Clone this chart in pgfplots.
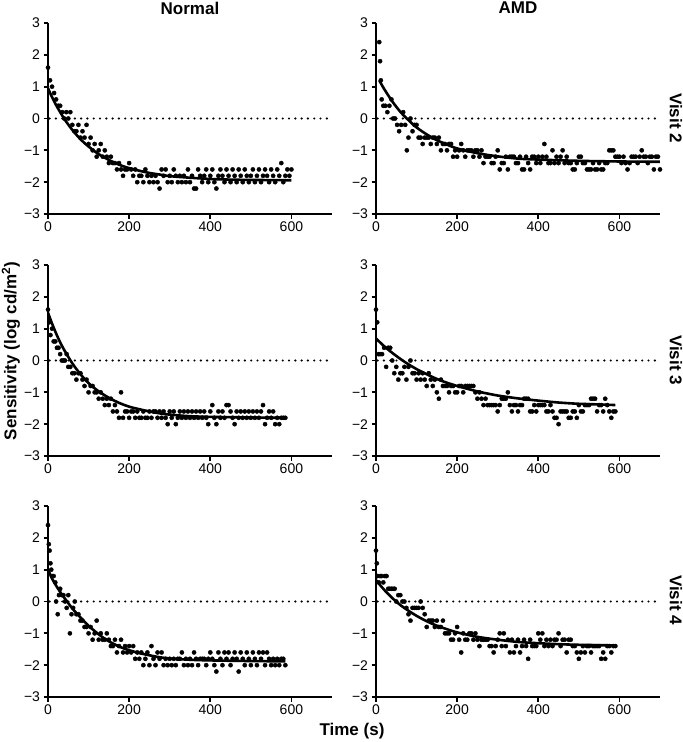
\documentclass[border=0pt]{standalone}
\usepackage{pgfplots}
\pgfplotsset{compat=1.18}
\usepackage{fontspec}
\setmainfont{Liberation Sans}
\pgfplotsset{
  panel/.style={
    scale only axis, width=284pt, height=191pt,
    xmin=0, xmax=700, ymin=-3, ymax=3,
    axis x line*=bottom, axis y line*=left,
    xtick={0,200,400,600}, ytick={-3,-2,-1,0,1,2,3},
    yticklabels={−3,−2,−1,0,1,2,3},
    tick align=outside, major tick length=4.5pt,
    tick style={line width=1.8pt, black},
    axis line style={line width=2.2pt, black},
    ticklabel style={font=\fontsize{14}{16}\selectfont},
    /pgf/number format/assume math mode=true,
    anchor=south west,
  },
  pts/.style={only marks, mark=*, mark size=2.1pt, black},
  fit/.style={line width=2.6pt, black, smooth, no marks},
  zero/.style={line width=2.4pt, black, line cap=round, dash pattern=on 0pt off 6.3pt, no marks},
}
\begin{document}
\begin{tikzpicture}
\useasboundingbox (0,0) rectangle (683pt,-742pt);
% ---------- Normal, Visit 2
\begin{axis}[panel, at={(48pt,-214pt)}]
\addplot[zero] coordinates {(4,0)(700,0)};
\addplot[pts] coordinates {(0,1.6)(5,1.2)(10,1.0)(15,0.8)(20,0.6)(25,0.4)(30,0.4)(35,0.2)(40,0.0)(45,0.2)(50,0.0)(55,0.2)(60,-0.2)(65,-0.4)(70,-0.4)(75,-0.2)(80,-0.6)(85,-0.4)(90,-0.6)(95,-0.2)(100,-0.8)(105,-0.6)(110,-1.0)(115,-0.8)(120,-1.2)(125,-1.0)(130,-0.8)(135,-1.2)(140,-1.0)(145,-1.2)(150,-1.4)(155,-1.2)(160,-1.4)(165,-1.4)(170,-1.6)(175,-1.4)(180,-1.6)(185,-1.8)(190,-1.6)(195,-1.6)(200,-1.4)(205,-1.6)(210,-1.8)(215,-1.6)(220,-2.0)(225,-1.8)(230,-1.8)(235,-2.0)(240,-1.6)(245,-1.8)(250,-2.0)(255,-1.8)(260,-2.0)(265,-1.8)(270,-2.0)(275,-2.2)(280,-1.6)(285,-1.8)(290,-1.6)(295,-2.0)(300,-1.8)(305,-2.0)(310,-1.6)(315,-1.8)(320,-2.0)(325,-1.8)(330,-2.0)(335,-1.8)(340,-2.0)(345,-1.6)(350,-2.0)(355,-1.8)(360,-2.2)(365,-2.2)(370,-1.6)(375,-1.8)(380,-2.0)(385,-1.8)(390,-1.6)(395,-2.0)(400,-1.8)(405,-1.6)(410,-2.0)(415,-2.2)(420,-1.8)(425,-1.6)(430,-1.8)(435,-2.0)(440,-1.6)(445,-1.8)(450,-2.0)(455,-1.6)(460,-1.8)(465,-2.0)(470,-1.6)(475,-1.8)(480,-2.0)(485,-1.6)(490,-1.8)(495,-2.0)(500,-1.8)(505,-1.6)(510,-2.0)(515,-1.8)(520,-1.6)(525,-2.0)(530,-1.8)(535,-1.6)(540,-1.8)(545,-2.0)(550,-1.6)(555,-1.8)(560,-2.0)(565,-1.6)(570,-1.8)(575,-1.4)(580,-2.0)(585,-1.8)(590,-1.6)(595,-1.8)(600,-1.6)};
\addplot[fit] coordinates {(0,0.95)(10,0.67)(20,0.42)(30,0.20)(40,-0.01)(50,-0.19)(60,-0.36)(80,-0.65)(100,-0.88)(125,-1.12)(150,-1.30)(175,-1.45)(200,-1.56)(225,-1.64)(250,-1.71)(275,-1.76)(300,-1.81)(350,-1.86)(400,-1.90)(450,-1.92)(500,-1.93)(600,-1.94)};
\end{axis}
% ---------- AMD, Visit 2
\begin{axis}[panel, at={(376pt,-214pt)}]
\addplot[zero] coordinates {(4,0)(700,0)};
\addplot[pts] coordinates {(8,2.4)(10,1.8)(12,1.2)(14,0.6)(18,0.4)(23,0.4)(28,0.2)(33,0.4)(38,0.6)(42,0.0)(47,0.0)(52,-0.2)(57,-0.4)(62,-0.2)(67,0.2)(72,-0.2)(76,-1.0)(80,-0.6)(85,0.0)(90,-0.4)(95,-0.2)(100,-0.2)(105,-0.6)(110,-0.6)(115,-0.8)(120,-0.6)(125,-0.6)(130,-0.6)(135,-0.8)(140,-0.6)(145,-0.6)(150,-0.8)(155,-0.6)(160,-1.0)(165,-0.8)(170,-0.8)(175,-1.0)(180,-0.8)(185,-0.8)(190,-1.2)(195,-1.0)(200,-1.2)(205,-1.0)(210,-0.8)(215,-1.0)(220,-1.2)(225,-1.0)(230,-1.0)(235,-1.0)(240,-1.2)(245,-1.0)(250,-1.0)(255,-1.2)(260,-1.0)(265,-1.4)(270,-1.2)(275,-1.2)(280,-1.2)(285,-1.4)(290,-1.4)(295,-1.2)(300,-1.0)(305,-1.6)(310,-1.4)(315,-1.4)(320,-1.2)(325,-1.6)(330,-1.2)(335,-1.2)(340,-1.2)(345,-1.4)(350,-1.4)(355,-1.2)(360,-1.6)(365,-1.6)(370,-1.2)(375,-1.4)(380,-1.6)(385,-1.2)(390,-1.2)(395,-1.4)(400,-1.2)(405,-1.4)(410,-1.2)(415,-0.8)(420,-1.2)(425,-1.4)(430,-1.4)(435,-1.0)(440,-1.4)(445,-1.2)(450,-1.4)(455,-1.2)(460,-1.0)(465,-1.4)(470,-1.2)(475,-1.4)(480,-1.4)(485,-1.6)(490,-1.6)(495,-1.4)(500,-1.2)(505,-1.2)(510,-1.4)(515,-1.4)(520,-1.6)(525,-1.6)(530,-1.6)(535,-1.4)(540,-1.6)(545,-1.6)(550,-1.4)(555,-1.6)(560,-1.6)(565,-1.4)(570,-1.4)(575,-1.0)(580,-1.0)(585,-1.0)(590,-1.2)(595,-1.2)(600,-1.2)(605,-1.4)(610,-1.2)(615,-1.4)(620,-1.6)(625,-1.4)(630,-1.2)(635,-1.2)(640,-1.2)(645,-1.4)(650,-1.2)(655,-1.0)(660,-1.2)(665,-1.2)(670,-1.4)(675,-1.2)(680,-1.2)(685,-1.6)(690,-1.2)(695,-1.2)(700,-1.6)};
\addplot[fit] coordinates {(8,1.20)(20,0.93)(40,0.54)(60,0.21)(80,-0.05)(100,-0.28)(125,-0.50)(150,-0.68)(175,-0.82)(200,-0.94)(250,-1.09)(300,-1.19)(350,-1.26)(400,-1.29)(500,-1.33)(600,-1.35)(700,-1.36)};
\end{axis}
% ---------- Normal, Visit 3
\begin{axis}[panel, at={(48pt,-456pt)}]
\addplot[zero] coordinates {(4,0)(700,0)};
\addplot[pts] coordinates {(0,1.6)(3,1.2)(6,0.8)(10,1.0)(14,0.6)(18,0.6)(22,0.4)(26,0.4)(30,0.2)(34,0.0)(38,0.0)(42,0.0)(46,0.2)(50,-0.2)(55,-0.2)(60,-0.4)(65,-0.4)(70,-0.6)(75,-0.4)(80,-0.4)(85,-0.6)(90,-0.8)(95,-0.6)(100,-1.0)(105,-0.8)(110,-0.8)(115,-1.0)(120,-1.0)(125,-1.2)(130,-1.0)(135,-1.2)(140,-1.4)(145,-1.2)(150,-1.4)(155,-1.2)(160,-1.6)(165,-1.4)(170,-1.6)(175,-1.8)(180,-1.0)(185,-1.8)(190,-1.6)(195,-1.6)(200,-1.8)(205,-1.6)(210,-1.6)(215,-1.8)(220,-1.6)(225,-1.8)(230,-1.8)(235,-1.6)(240,-1.8)(245,-1.8)(250,-1.6)(255,-1.8)(260,-1.6)(265,-1.6)(270,-1.8)(275,-1.6)(280,-1.8)(285,-1.6)(290,-1.8)(295,-2.0)(300,-1.6)(305,-1.8)(310,-1.6)(315,-2.0)(320,-1.8)(325,-1.6)(330,-1.8)(335,-1.6)(340,-1.8)(345,-1.6)(350,-1.8)(355,-1.6)(360,-1.8)(365,-1.6)(370,-1.8)(375,-1.6)(380,-1.8)(385,-1.6)(390,-1.8)(395,-2.0)(400,-1.6)(405,-1.4)(410,-1.8)(415,-2.0)(420,-1.6)(425,-1.8)(430,-1.6)(435,-1.8)(440,-1.4)(445,-1.4)(450,-1.6)(455,-1.8)(460,-2.0)(465,-1.6)(470,-1.8)(475,-1.6)(480,-1.8)(485,-1.6)(490,-1.8)(495,-1.6)(500,-1.8)(505,-1.6)(510,-1.8)(515,-1.6)(520,-1.8)(525,-1.6)(530,-1.4)(535,-2.0)(540,-1.8)(545,-1.6)(550,-1.8)(555,-1.6)(560,-2.0)(565,-1.8)(570,-2.0)(575,-1.8)(580,-1.8)(585,-1.8)};
\addplot[fit] coordinates {(0,1.50)(10,1.16)(20,0.85)(30,0.57)(40,0.33)(60,-0.09)(80,-0.43)(100,-0.71)(125,-0.97)(150,-1.17)(175,-1.33)(200,-1.45)(225,-1.53)(250,-1.60)(275,-1.66)(300,-1.70)(350,-1.75)(400,-1.77)(500,-1.79)(585,-1.80)};
\end{axis}
% ---------- AMD, Visit 3
\begin{axis}[panel, at={(376pt,-456pt)}]
\addplot[zero] coordinates {(4,0)(700,0)};
\addplot[pts] coordinates {(0,1.6)(3,1.2)(6,0.2)(10,0.2)(15,0.2)(20,0.4)(25,-0.2)(30,0.4)(35,0.4)(40,0.0)(45,-0.4)(50,-0.2)(55,-0.6)(60,-0.4)(65,-0.4)(70,-0.2)(75,-0.6)(80,-0.2)(85,0.0)(90,-0.4)(95,-0.4)(100,-0.6)(105,-0.4)(110,-0.6)(115,-0.4)(120,-0.6)(125,-0.8)(130,-0.4)(135,-0.6)(140,-0.8)(145,-0.6)(150,-1.0)(155,-1.2)(160,-0.6)(165,-0.8)(170,-0.8)(175,-0.8)(180,-1.0)(185,-0.8)(190,-0.8)(195,-1.0)(200,-1.0)(205,-0.8)(210,-0.8)(215,-1.0)(220,-0.8)(225,-0.8)(230,-0.8)(235,-0.8)(240,-0.8)(245,-1.0)(250,-1.2)(255,-1.0)(260,-1.2)(265,-1.4)(270,-1.2)(275,-1.4)(280,-1.4)(285,-1.4)(290,-1.4)(295,-1.4)(300,-1.6)(305,-1.4)(310,-1.2)(315,-1.2)(320,-1.2)(325,-1.0)(330,-1.4)(335,-1.6)(340,-1.4)(345,-1.4)(350,-1.6)(355,-1.4)(360,-1.4)(365,-1.2)(370,-1.2)(375,-1.2)(380,-1.6)(385,-1.6)(390,-1.4)(395,-1.6)(400,-1.4)(405,-1.4)(410,-1.4)(415,-1.4)(420,-1.6)(425,-1.6)(430,-1.4)(435,-1.6)(440,-1.8)(445,-1.8)(450,-2.0)(455,-1.6)(460,-1.6)(465,-1.6)(470,-1.6)(475,-1.8)(480,-1.8)(485,-1.6)(490,-1.6)(495,-1.8)(500,-1.4)(505,-1.6)(510,-1.6)(515,-1.4)(520,-1.4)(525,-1.4)(530,-1.2)(535,-1.2)(540,-1.2)(545,-1.6)(550,-1.4)(555,-1.4)(560,-1.6)(565,-1.2)(570,-1.4)(575,-1.6)(580,-1.8)(585,-1.6)(590,-1.6)};
\addplot[fit] coordinates {(0,0.69)(20,0.45)(40,0.24)(60,0.05)(80,-0.12)(100,-0.27)(125,-0.43)(150,-0.58)(175,-0.70)(200,-0.80)(250,-0.97)(300,-1.10)(350,-1.19)(400,-1.26)(450,-1.32)(500,-1.36)(550,-1.38)(590,-1.40)};
\end{axis}
% ---------- Normal, Visit 4
\begin{axis}[panel, at={(48pt,-697pt)}]
\addplot[zero] coordinates {(4,0)(700,0)};
\addplot[pts] coordinates {(0,2.4)(2,1.8)(4,1.6)(6,1.2)(8,1.0)(10,0.8)(14,0.8)(18,0.6)(20,0.0)(24,-0.4)(27,0.2)(30,0.4)(34,0.2)(38,0.2)(42,0.0)(46,-0.2)(50,0.2)(54,-1.0)(58,-0.4)(62,-0.2)(66,0.0)(70,-0.4)(75,-0.4)(80,-0.6)(85,-0.6)(90,-0.8)(95,-0.8)(100,-1.0)(105,-0.8)(110,-1.2)(115,-1.0)(120,-0.6)(125,-1.2)(130,-1.0)(135,-1.2)(140,-1.2)(145,-1.0)(150,-1.2)(155,-1.4)(160,-1.4)(165,-1.2)(170,-1.6)(175,-1.4)(180,-1.2)(185,-1.6)(190,-1.4)(195,-1.6)(200,-1.4)(205,-1.6)(210,-1.4)(215,-1.8)(220,-1.6)(225,-1.8)(230,-1.6)(235,-2.0)(240,-1.8)(245,-1.6)(250,-2.0)(255,-1.4)(260,-1.8)(265,-2.0)(270,-1.6)(275,-1.8)(280,-1.6)(285,-2.0)(290,-1.8)(295,-2.0)(300,-1.8)(305,-2.0)(310,-1.8)(315,-2.0)(320,-1.8)(325,-1.8)(330,-1.6)(335,-2.0)(340,-1.8)(345,-2.0)(350,-1.8)(355,-2.0)(360,-1.6)(365,-1.8)(370,-2.0)(375,-1.8)(380,-1.8)(385,-1.8)(390,-2.0)(395,-1.8)(400,-1.6)(405,-1.8)(410,-2.0)(415,-2.2)(420,-1.6)(425,-1.8)(430,-2.0)(435,-1.6)(440,-1.8)(445,-1.6)(450,-2.0)(455,-1.8)(460,-1.6)(465,-1.8)(470,-2.2)(475,-1.6)(480,-1.8)(485,-2.0)(490,-1.6)(495,-1.8)(500,-2.0)(505,-1.6)(510,-1.8)(515,-2.0)(520,-1.6)(525,-1.8)(530,-1.6)(535,-2.0)(540,-1.6)(545,-1.8)(550,-2.0)(555,-1.8)(560,-2.0)(565,-1.8)(570,-2.0)(575,-1.8)(580,-1.8)(585,-2.0)};
\addplot[fit] coordinates {(0,1.0)(10,0.72)(20,0.5)(30,0.3)(40,0.12)(50,-0.05)(60,-0.22)(80,-0.5)(100,-0.76)(120,-0.98)(140,-1.17)(160,-1.32)(180,-1.44)(200,-1.53)(225,-1.62)(250,-1.69)(275,-1.75)(300,-1.79)(350,-1.83)(400,-1.85)(500,-1.87)(585,-1.88)};
\end{axis}
% ---------- AMD, Visit 4
\begin{axis}[panel, at={(376pt,-697pt)}]
\addplot[zero] coordinates {(4,0)(700,0)};
\addplot[pts] coordinates {(0,1.6)(2,1.2)(4,0.8)(7,0.6)(10,0.8)(14,0.8)(18,0.6)(22,0.8)(26,0.8)(30,0.4)(34,0.4)(38,0.4)(42,0.4)(46,0.4)(50,0.0)(55,0.2)(60,0.2)(65,0.0)(70,0.0)(75,-0.2)(80,-0.4)(85,-0.6)(90,-0.2)(95,-0.2)(100,-0.2)(105,-0.2)(110,0.0)(115,-0.2)(120,-0.4)(125,-0.8)(130,-0.6)(135,-0.6)(140,-0.6)(145,-0.8)(150,-0.6)(155,-0.8)(160,-0.8)(165,-0.6)(170,-1.0)(175,-1.0)(180,-1.0)(185,-1.2)(190,-1.2)(195,-1.0)(200,-0.8)(205,-1.2)(210,-1.6)(215,-1.0)(220,-1.2)(225,-1.2)(230,-1.0)(235,-1.0)(240,-1.2)(245,-1.0)(250,-1.2)(255,-1.4)(260,-1.2)(265,-1.2)(270,-1.2)(275,-1.2)(280,-1.4)(285,-1.4)(290,-1.6)(295,-1.4)(300,-1.2)(305,-1.0)(310,-1.4)(315,-1.0)(320,-1.4)(325,-1.2)(330,-1.6)(335,-1.2)(340,-1.6)(345,-1.4)(350,-1.2)(355,-1.6)(360,-1.4)(365,-1.2)(370,-1.4)(375,-1.8)(380,-1.2)(385,-1.4)(390,-1.4)(395,-1.4)(400,-1.0)(405,-1.2)(410,-1.0)(415,-1.4)(420,-1.2)(425,-1.4)(430,-1.2)(435,-1.4)(440,-1.2)(445,-1.2)(450,-1.0)(455,-1.4)(460,-1.2)(465,-1.2)(470,-1.6)(475,-1.2)(480,-1.2)(485,-1.4)(490,-1.4)(495,-1.6)(500,-1.8)(505,-1.6)(510,-1.4)(515,-1.6)(520,-1.4)(525,-1.4)(530,-1.6)(535,-1.4)(540,-1.4)(545,-1.4)(550,-1.4)(555,-1.8)(560,-1.6)(565,-1.8)(570,-1.4)(575,-1.4)(580,-1.6)(585,-1.4)(590,-1.4)};
\addplot[fit] coordinates {(0,0.67)(20,0.37)(40,0.11)(60,-0.11)(80,-0.29)(100,-0.45)(125,-0.62)(150,-0.76)(175,-0.87)(200,-0.97)(250,-1.11)(300,-1.20)(350,-1.27)(400,-1.31)(450,-1.34)(500,-1.36)(590,-1.38)};
\end{axis}
% ---------- labels
\node[font=\fontsize{17}{19}\selectfont\bfseries] at (190pt,-8pt) {Normal};
\node[font=\fontsize{17}{19}\selectfont\bfseries] at (518pt,-8pt) {AMD};
\node[font=\fontsize{17}{19}\selectfont\bfseries, rotate=-90] at (676pt,-118pt) {Visit 2};
\node[font=\fontsize{17}{19}\selectfont\bfseries, rotate=-90] at (676pt,-360pt) {Visit 3};
\node[font=\fontsize{17}{19}\selectfont\bfseries, rotate=-90] at (676pt,-600pt) {Visit 4};
\node[font=\fontsize{17}{19}\selectfont\bfseries, rotate=90] at (11pt,-351pt) {Sensitivity (log cd/m\textsuperscript{2})};
\node[font=\fontsize{17}{19}\selectfont\bfseries] at (352pt,-731pt) {Time (s)};
\end{tikzpicture}
\end{document}
